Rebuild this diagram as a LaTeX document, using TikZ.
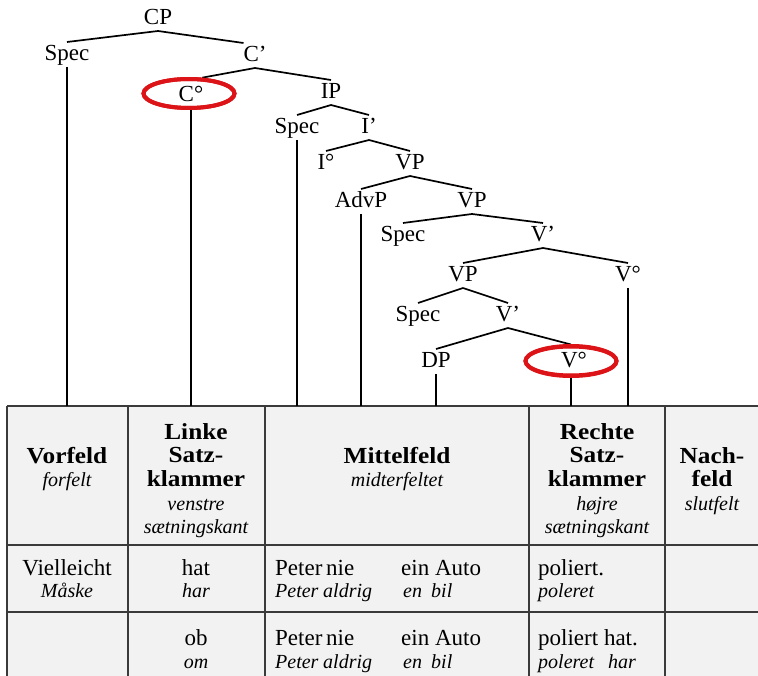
\documentclass[tikz,border=0pt]{standalone}
\usepackage{fontspec}
\setmainfont{LiberationSerif}[Extension=.ttf,
  UprightFont=*-Regular, BoldFont=*-Bold,
  ItalicFont=*-Italic, BoldItalicFont=*-BoldItalic]
\newfontfamily\headbold{LiberationSerif-Bold}[Extension=.ttf, FakeStretch=1.1]
\usetikzlibrary{shapes.geometric}
\definecolor{ringred}{RGB}{220,20,24}
\definecolor{gridgray}{RGB}{58,58,58}
\definecolor{cellfill}{RGB}{242,242,242}
\begin{document}
\begin{tikzpicture}[x=1pt,y=-1pt,
  tn/.style={font=\fontsize{23}{24}\selectfont, inner sep=0pt, outer sep=0pt,
             text height=19pt, text depth=6pt, anchor=base},
  edge/.style={line width=1.7pt, black},
  ring/.style={draw=ringred, line width=4pt, ellipse, inner sep=0pt,
               minimum width=91pt, minimum height=29pt},
  grid/.style={draw=gridgray, line width=1.4pt},
  hb/.style={font=\headbold\fontsize{23}{24}\selectfont, inner sep=0pt, anchor=base},
  hi/.style={font=\fontsize{20}{24}\selectfont\itshape, inner sep=0pt, anchor=base},
  rm/.style={font=\fontsize{23}{24}\selectfont, inner sep=0pt, anchor=base},
  rmw/.style={rm, anchor=base west},
  hiw/.style={hi, anchor=base west}]
\useasboundingbox (0,0) rectangle (758,676);

% ---------- table background and rules ----------
\fill[cellfill] (7,406) rectangle (758,676);
\coordinate (tabtop) at (0,406);
\draw[grid] (7,406) -- (758,406);
\draw[grid] (7,545) -- (758,545);
\draw[grid] (7,612) -- (758,612);
\foreach \cx in {7,128,265,529,665}
  \draw[grid] (\cx,406) -- (\cx,676);

% ---------- tree nodes ----------
\node[tn] (cp)    at (158,25)  {CP};
\node[tn] (spa)   at (67,61)   {Spec};
\node[tn] (cbar)  at (255,62)  {C’};
\node[tn] (czero) at (191,102) {C°};
\node[tn] (ip)    at (331,99)  {IP};
\node[tn] (spb)   at (297,134) {Spec};
\node[tn] (ibar)  at (369,134) {I’};
\node[tn] (izero) at (326,170) {I°};
\node[tn] (vpa)   at (410,170) {VP};
\node[tn] (advp)  at (361,208) {AdvP};
\node[tn] (vpb)   at (472,208) {VP};
\node[tn] (spc)   at (403,242) {Spec};
\node[tn] (vbara) at (543,242) {V’};
\node[tn] (vpc)   at (463,282) {VP};
\node[tn] (vzra)  at (628,282) {V°};
\node[tn] (spd)   at (418,322) {Spec};
\node[tn] (vbarb) at (508,322) {V’};
\node[tn] (dp)    at (436,368) {DP};
\node[tn] (vzrb)  at (574,368) {V°};

% highlight rings
\node[ring] (cring) at (189,93.5) {};
\node[ring] (vring) at (571,361) {};

% ---------- branches ----------
\draw[edge] (cp.south) -- (spa.north);
\draw[edge] (cp.south) -- (cbar.south west |- cbar.north);
\draw[edge] (cbar.south) -- (cring.50);
\draw[edge] (cbar.south) -- (ip.north);
\draw[edge] (ip.south) -- (spb.north);
\draw[edge] (ip.south) -- (ibar.north);
\draw[edge] (ibar.south) -- (izero.north);
\draw[edge] (ibar.south) -- (vpa.north);
\draw[edge] (vpa.south) -- (advp.north);
\draw[edge] (vpa.south) -- (vpb.north);
\draw[edge] (vpb.south) -- (spc.north);
\draw[edge] (vpb.south) -- (vbara.north);
\draw[edge] (vbara.south) -- (vpc.north);
\draw[edge] (vbara.south) -- (vzra.north);
\draw[edge] (vpc.south) -- (spd.north);
\draw[edge] (vpc.south) -- (vbarb.north);
\draw[edge] (vbarb.south) -- (dp.north);
\draw[edge] (vbarb.south) -- (vring.north);

% ---------- drop lines into the fields ----------
\draw[edge] (spa.south) -- (spa.south |- tabtop);
\draw[edge] (czero.south) -- (czero.south |- tabtop);
\draw[edge] (spb.south) -- (spb.south |- tabtop);
\draw[edge] (advp.south) -- (advp.south |- tabtop);
\draw[edge] (dp.south) -- (dp.south |- tabtop);
\draw[edge] (vring.south) -- (vring.south |- tabtop);
\draw[edge] (vzra.south) -- (vzra.south |- tabtop);

% redraw rings on top of the lines
\draw[draw=ringred, line width=4pt] (189,93.5) ellipse [x radius=45.5pt, y radius=14.5pt];
\draw[draw=ringred, line width=4pt] (571,361) ellipse [x radius=45.5pt, y radius=15pt];

% ---------- header row ----------
\node[hb] (hvorf) at (67,463) {Vorfeld};
\node[hi] (hvorfd) at (67,486) {forfelt};

\node[hb] (hlka) at (196,439) {Linke};
\node[hb] (hlkb) at (196,462) {Satz-};
\node[hb] (hlkc) at (196,486) {klammer};
\node[hi] (hlkd) at (196,510) {venstre};
\node[hi] (hlke) at (196,533) {sætningskant};

\node[hb] (hmit) at (397,463) {Mittelfeld};
\node[hi] (hmitd) at (397,486) {midterfeltet};

\node[hb] (hrka) at (597,439) {Rechte};
\node[hb] (hrkb) at (597,462) {Satz-};
\node[hb] (hrkc) at (597,486) {klammer};
\node[hi] (hrkd) at (597,510) {højre};
\node[hi] (hrke) at (597,533) {sætningskant};

\node[hb] (hnaa) at (712,463) {Nach-};
\node[hb] (hnab) at (712,486) {feld};
\node[hi] (hnad) at (712,510) {slutfelt};

% ---------- first example ----------
\node[rm] (avf) at (67,575) {Vielleicht};
\node[hi] (avfd) at (67,597) {Måske};
\node[rm] (alk) at (196,575) {hat};
\node[hi] (alkd) at (196,597) {har};
\node[rmw] (ama) at (275,575) {Peter};
\node[rmw] (amb) at (326,575) {nie};
\node[rmw] (amc) at (401,575) {ein Auto};
\node[hiw] (amad) at (275,597) {Peter};
\node[hiw] (ambd) at (323,597) {aldrig};
\node[hiw] (amcd) at (403,597) {en};
\node[hiw] (amdd) at (431,597) {bil};
\node[rmw] (ark) at (538,575) {poliert.};
\node[hiw] (arkd) at (538,597) {poleret};

% ---------- second example ----------
\node[rm] (blk) at (196,645) {ob};
\node[hi] (blkd) at (196,668) {om};
\node[rmw] (bma) at (275,645) {Peter};
\node[rmw] (bmb) at (326,645) {nie};
\node[rmw] (bmc) at (401,645) {ein Auto};
\node[hiw] (bmad) at (275,668) {Peter};
\node[hiw] (bmbd) at (323,668) {aldrig};
\node[hiw] (bmcd) at (403,668) {en};
\node[hiw] (bmdd) at (431,668) {bil};
\node[rmw] (brk) at (538,645) {poliert hat.};
\node[hiw] (brkd) at (538,668) {poleret};
\node[hiw] (brke) at (608,668) {har};
\end{tikzpicture}
\end{document}
